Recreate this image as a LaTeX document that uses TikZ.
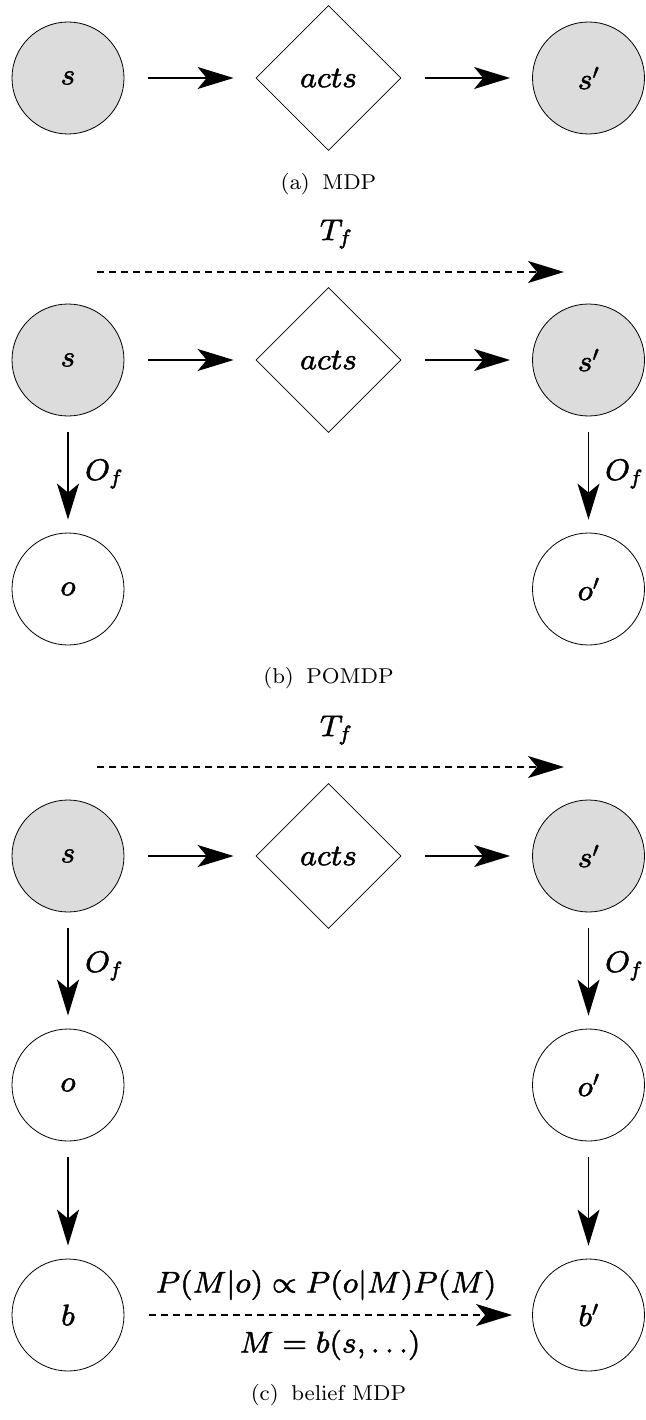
\RequirePackage{fix-cm}
\documentclass[tikz,border=0pt]{standalone}
\usetikzlibrary{arrows.meta,shapes.geometric}
\DeclareFontShape{OML}{cmm}{m}{it}{<->cmmi8}{}
\DeclareFontShape{OT1}{cmr}{m}{n}{<->cmr8}{}
\DeclareFontShape{OMS}{cmsy}{m}{n}{<->cmsy8}{}
\definecolor{sfill}{RGB}{220,220,220}
\newcommand\heavyon{\special{pdf:literal direct 2 Tr 0.45 w}}
\newcommand\heavyoff{\special{pdf:literal direct 0 Tr}}
\newcommand\bigmath{\fontsize{30}{36}\selectfont}
\newcommand\capfont{\fontencoding{OT1}\fontfamily{cmr}\fontsize{21.5}{26}\selectfont}
\begin{document}
\begin{tikzpicture}[x=1pt,y=-1pt,
  heavytext/.style={font=\bigmath, execute at begin node=\heavyon, execute at end node=\heavyoff},
  state/.style={circle, draw, line width=0.8pt, minimum size=112pt, inner sep=0pt, heavytext},
  hidden/.style={state, fill=sfill},
  actbox/.style={diamond, draw, line width=0.8pt, minimum width=145pt, minimum height=145pt, inner sep=0pt, heavytext},
  lbl/.style={inner sep=0pt, heavytext},
  captext/.style={inner sep=0pt, font=\capfont},
  arr/.style={line width=1.6pt, -{Stealth[length=36pt,width=22pt,inset=9pt]}},
  dasharr/.style={arr, dash pattern=on 7pt off 5pt},
  hgap/.style={shorten <=24pt, shorten >=22pt},
  vgap/.style={shorten <=16pt, shorten >=13pt}
]
\useasboundingbox (0,0) rectangle (645,1420);

% (a) MDP
\node[hidden] (s1) at (68,78) {$s$};
\node[actbox] (a1) at (328.5,78) {$acts$};
\node[hidden] (sp1) at (588.5,78) {$s'$};
\draw[arr,hgap] (s1) -- (a1);
\draw[arr,hgap] (a1) -- (sp1);
\node[captext] (capa) at (328.5,184) {(a)\hspace{0.55em}MDP};

% (b) POMDP
\node[lbl] (tf2) at (336,234) {$T_f$};
\coordinate (t2s) at (97,272);
\coordinate (t2e) at (564,272);
\draw[dasharr] (t2s) -- (t2e);
\node[hidden] (s2) at (68,360) {$s$};
\node[actbox] (a2) at (328.5,360) {$acts$};
\node[hidden] (sp2) at (588.5,360) {$s'$};
\draw[arr,hgap] (s2) -- (a2);
\draw[arr,hgap] (a2) -- (sp2);
\node[state] (o2) at (68,589) {$o$};
\node[state] (op2) at (588.5,589) {$o'$};
\draw[arr,vgap] (s2) -- (o2);
\draw[arr,vgap] (sp2) -- (op2);
\node[lbl] (of2) at (104,474) {$O_f$};
\node[lbl] (ofp2) at (624,474) {$O_f$};
\node[captext] (capb) at (328.5,678) {(b)\hspace{0.55em}POMDP};

% (c) belief MDP
\node[lbl] (tf3) at (336,730) {$T_f$};
\coordinate (t3s) at (97,767);
\coordinate (t3e) at (564,767);
\draw[dasharr] (t3s) -- (t3e);
\node[hidden] (s3) at (68,856) {$s$};
\node[actbox] (a3) at (328.5,856) {$acts$};
\node[hidden] (sp3) at (588.5,856) {$s'$};
\draw[arr,hgap] (s3) -- (a3);
\draw[arr,hgap] (a3) -- (sp3);
\node[state] (o3) at (68,1085) {$o$};
\node[state] (op3) at (588.5,1085) {$o'$};
\draw[arr,vgap] (s3) -- (o3);
\draw[arr,vgap] (sp3) -- (op3);
\node[lbl] (of3) at (104,966) {$O_f$};
\node[lbl] (ofp3) at (624,966) {$O_f$};
\node[state] (b) at (68,1315) {$b$};
\node[state] (bp) at (588.5,1315) {$b'$};
\draw[arr,vgap] (o3) -- (b);
\draw[arr,vgap] (op3) -- (bp);
\draw[dasharr,shorten <=25pt,shorten >=20pt] (b) -- (bp);
\node[lbl] (f1) at (326,1285) {$P(M|o) \propto P(o|M)P(M)$};
\node[lbl] (f2) at (330,1345) {$M = b(s,\ldots)$};
\node[captext] (capc) at (328.5,1395) {(c)\hspace{0.55em}belief MDP};
\end{tikzpicture}
\end{document}
